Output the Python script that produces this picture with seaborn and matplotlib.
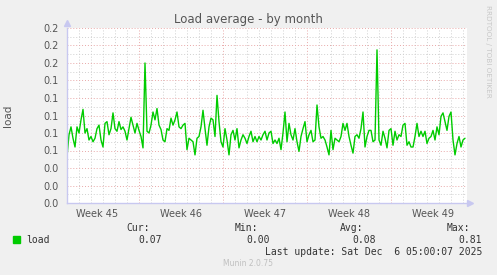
import numpy as np
import pandas as pd
import matplotlib
matplotlib.use("Agg")
import matplotlib.pyplot as plt
from matplotlib.ticker import MultipleLocator, FormatStrFormatter
import seaborn as sns

# ---------------- data ----------------
title = "Load average - by month"
series_name = "load"
week_labels = ["Week 45", "Week 46", "Week 47", "Week 48", "Week 49"]
week_centers = [3.5, 10.5, 17.5, 24.5, 31.5]   # days from Monday of week 45
start_day = 1.0          # first sample (days from Monday of week 45)
step_day = 1.0 / 6.0     # 4-hour samples
x_range = (1.0, 34.333)

load_values = [
    0.053, 0.078, 0.087, 0.074, 0.064, 0.087, 0.080, 0.095, 0.107, 0.080,
    0.085, 0.072, 0.076, 0.070, 0.074, 0.085, 0.089, 0.072, 0.064, 0.091,
    0.093, 0.078, 0.085, 0.103, 0.085, 0.082, 0.093, 0.084, 0.087, 0.082,
    0.072, 0.085, 0.098, 0.089, 0.080, 0.091, 0.083, 0.076, 0.063, 0.160,
    0.082, 0.080, 0.089, 0.104, 0.095, 0.108, 0.089, 0.084, 0.072, 0.070,
    0.085,
    0.083, 0.097, 0.089, 0.095, 0.104, 0.087, 0.085, 0.089, 0.091, 0.061,
    0.074, 0.072, 0.070, 0.055, 0.074, 0.076, 0.087, 0.106, 0.085, 0.066,
    0.087, 0.097, 0.095, 0.076, 0.123, 0.093, 0.070, 0.064, 0.085, 0.072,
    0.055, 0.078, 0.083, 0.072, 0.085, 0.063, 0.072, 0.078, 0.074, 0.068,
    0.076, 0.082, 0.070, 0.076, 0.070, 0.076, 0.072, 0.078, 0.082, 0.072,
    0.080, 0.082, 0.068, 0.072, 0.068, 0.074, 0.061, 0.080, 0.104, 0.070,
    0.091, 0.078, 0.072, 0.085, 0.070, 0.059, 0.076, 0.085, 0.093, 0.070,
    0.078, 0.083, 0.070, 0.072, 0.112, 0.087, 0.074, 0.076, 0.072, 0.064,
    0.055, 0.083, 0.061, 0.074, 0.072, 0.070, 0.076, 0.091, 0.083, 0.091,
    0.076, 0.066, 0.057, 0.076, 0.078, 0.074, 0.085, 0.104, 0.064, 0.076,
    0.083, 0.083, 0.070, 0.072, 0.175, 0.072, 0.066, 0.082, 0.074, 0.063,
    0.083, 0.085, 0.066, 0.082, 0.072, 0.078, 0.076, 0.089, 0.091, 0.066,
    0.070, 0.064, 0.064, 0.076, 0.091, 0.076, 0.082, 0.076, 0.082, 0.068,
    0.074, 0.076, 0.083, 0.072, 0.087, 0.078, 0.099, 0.103, 0.093, 0.083,
    0.099, 0.104, 0.072, 0.055, 0.068, 0.076, 0.064, 0.072, 0.074,
]

legend_cols = ["Cur:", "Min:", "Avg:", "Max:"]
legend_vals = ["0.07", "0.00", "0.08", "0.81"]
last_update = "Last update: Sat Dec  6 05:00:07 2025"
footer = "Munin 2.0.75"
side_text = "RRDTOOL / TOBI OETIKER"

# ---------------- plot ----------------
sns.set_theme(style="white")
plt.rcParams["font.family"] = ["DejaVu Sans"]

W, H = 497, 275
fig = plt.figure(figsize=(W / 100, H / 100), dpi=100, facecolor="#F0F0F0")
ax = fig.add_axes([67 / W, (H - 203) / H, 400 / W, 175 / H])
ax.set_facecolor("white")

df = pd.DataFrame({
    "day": start_day + step_day * np.arange(len(load_values)),
    "load": load_values,
})
sns.lineplot(data=df, x="day", y="load", ax=ax, color="#00CC00",
             linewidth=1.0, legend=False)

ax.set_xlim(*x_range)
ax.set_ylim(0, 0.2)

# grid
ax.yaxis.set_major_locator(MultipleLocator(0.02))
ax.yaxis.set_minor_locator(MultipleLocator(0.01))
ax.yaxis.set_major_formatter(FormatStrFormatter("%.1f"))
ax.xaxis.set_major_locator(MultipleLocator(7))
ax.xaxis.set_minor_locator(MultipleLocator(1))
ax.xaxis.set_major_formatter(plt.NullFormatter())
ax.grid(which="minor", color="#D0D0D0", linestyle=(0, (1, 2)), linewidth=0.7)
ax.grid(which="major", color="#E8A8A8", linestyle=(0, (1, 2)), linewidth=0.7)
ax.set_axisbelow(True)

ax.tick_params(axis="y", which="major", labelsize=7, labelcolor="#555555",
               length=2, color="#C8C8F0", pad=4)
ax.tick_params(axis="y", which="minor", length=0)
ax.tick_params(axis="x", which="major", length=3, color="#E08080", direction="out")
ax.tick_params(axis="x", which="minor", length=2, color="#C8C8C8", direction="out")

week_tr = matplotlib.transforms.blended_transform_factory(ax.transData, ax.transAxes)
for wl, wc in zip(week_labels, week_centers):
    ax.text(wc, -0.035, wl, transform=week_tr, ha="center",
            va="top", fontsize=7, color="#555555")

for s in ["top", "right"]:
    ax.spines[s].set_visible(False)
for s in ["left", "bottom"]:
    ax.spines[s].set_color("#C8C8F0")
    ax.spines[s].set_linewidth(1.0)
ax.plot([0], [1.03], marker="^", color="#C8C8F0", markersize=5,
        transform=ax.transAxes, clip_on=False)
ax.plot([1.008], [0], marker=">", color="#C8C8F0", markersize=5,
        transform=ax.transAxes, clip_on=False)

ax.set_xlabel("")
ax.set_ylabel("load", fontsize=7.5, color="#555555")
ax.yaxis.set_label_coords(-0.135, 0.5)

fig.text(248 / W, 1 - 19 / H, title, ha="center", va="center",
         fontsize=8.5, color="#555555")
fig.text(488 / W, 1 - 5 / H, side_text, ha="center", va="top",
         rotation=270, fontsize=5.2, color="#C8C8C8")

mono = "DejaVu Sans Mono"
fig.patches.append(plt.Rectangle((13 / W, 1 - 243 / H), 7 / W, 7 / H,
                                 transform=fig.transFigure, color="#00CC00"))
fig.text(26 / W, 1 - 240 / H, series_name, ha="left", va="center",
         fontsize=7, family=mono, color="#333333")
col_right = [162, 270, 376, 482]
hdr_right = [150, 258, 363, 470]
for c, v, xr, xh in zip(legend_cols, legend_vals, col_right, hdr_right):
    fig.text(xh / W, 1 - 228 / H, c, ha="right", va="center", fontsize=7,
             family=mono, color="#333333")
    fig.text(xr / W, 1 - 240 / H, v, ha="right", va="center", fontsize=7,
             family=mono, color="#333333")
fig.text(482 / W, 1 - 252 / H, last_update, ha="right", va="center",
         fontsize=7, family=mono, color="#333333")
fig.text(248 / W, 1 - 264 / H, footer, ha="center", va="center",
         fontsize=5.5, color="#C0C0C0")

fig.savefig("out.png", dpi=100, facecolor=fig.get_facecolor())
